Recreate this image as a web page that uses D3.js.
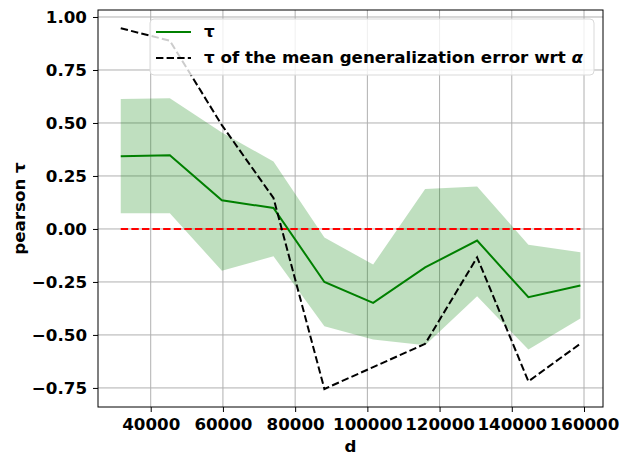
<!DOCTYPE html>
<html>
<head>
<meta charset="utf-8">
<script src="https://cdn.jsdelivr.net/npm/d3@7"></script>
<style>
  body { margin: 0; background: #fff; }
  svg text { font-family: "DejaVu Sans", sans-serif; font-weight: bold; }
</style>
</head>
<body>
<svg id="chart" width="621" height="457"></svg>
<script>
// values
var dValues = [31700, 45300, 59700, 74000, 88100, 101600, 116000, 130400, 144600, 159000];
var tauMean = [0.343, 0.348, 0.135, 0.099, -0.250, -0.349, -0.181, -0.055, -0.322, -0.267];
var tauUpper = [0.613, 0.617, 0.455, 0.318, -0.040, -0.168, 0.189, 0.200, -0.074, -0.110];
var tauLower = [0.074, 0.074, -0.197, -0.129, -0.459, -0.522, -0.549, -0.318, -0.569, -0.423];
var tauGenErr = [0.947, 0.888, 0.490, 0.146, -0.755, -0.652, -0.542, -0.134, -0.719, -0.541];
var xTicks = [40000, 60000, 80000, 100000, 120000, 140000, 160000];
var yTicks = [1.0, 0.75, 0.5, 0.25, 0.0, -0.25, -0.5, -0.75];
var legendLabels = ["τ", "τ of the mean generalization error wrt "];

window.onload = function(){
    drawChart();
};

function drawChart(){
    let svg = d3.select("#chart");
    let left = 98, right = 603, top = 10, bottom = 407;
    let fs = 16.7;

    let xScale = d3.scaleLinear().domain([25400, 165260]).range([left, right]);
    let yScale = d3.scaleLinear().domain([-0.840, 1.033]).range([bottom, top]);

    // grid
    let grid = svg.append("g");
    grid.selectAll("line.vx").data(xTicks).enter().append("line")
        .attr("x1", d => xScale(d)).attr("x2", d => xScale(d))
        .attr("y1", top).attr("y2", bottom)
        .attr("stroke", "#b0b0b0").attr("stroke-width", 1);
    grid.selectAll("line.hy").data(yTicks).enter().append("line")
        .attr("y1", d => yScale(d)).attr("y2", d => yScale(d))
        .attr("x1", left).attr("x2", right)
        .attr("stroke", "#b0b0b0").attr("stroke-width", 1);

    let pts = dValues.map(function(d, i){
        return {x: d, m: tauMean[i], lo: tauLower[i], hi: tauUpper[i], g: tauGenErr[i]};
    });

    // band
    let area = d3.area().x(d => xScale(d.x)).y0(d => yScale(d.lo)).y1(d => yScale(d.hi));
    svg.append("path").datum(pts).attr("d", area)
        .attr("fill", "green").attr("fill-opacity", 0.25);

    // zero reference line
    svg.append("line")
        .attr("x1", xScale(dValues[0])).attr("x2", xScale(dValues[dValues.length - 1]))
        .attr("y1", yScale(0)).attr("y2", yScale(0))
        .attr("stroke", "#ff0000").attr("stroke-width", 2)
        .attr("stroke-dasharray", "7.4,3.2");

    let meanLine = d3.line().x(d => xScale(d.x)).y(d => yScale(d.m));
    svg.append("path").datum(pts).attr("d", meanLine)
        .attr("fill", "none").attr("stroke", "green").attr("stroke-width", 2);

    let genLine = d3.line().x(d => xScale(d.x)).y(d => yScale(d.g));
    svg.append("path").datum(pts).attr("d", genLine)
        .attr("fill", "none").attr("stroke", "black").attr("stroke-width", 2)
        .attr("stroke-dasharray", "7.4,3.2");

    // axes
    let xAxis = d3.axisBottom(xScale).tickValues(xTicks).tickSize(5).tickPadding(6)
        .tickFormat(d3.format("d"));
    let gx = svg.append("g").attr("transform", "translate(0," + bottom + ")").call(xAxis);
    let yAxis = d3.axisLeft(yScale).tickValues(yTicks).tickSize(5).tickPadding(6)
        .tickFormat(d => d3.format(".2f")(d).replace("-", "\u2212"));
    let gy = svg.append("g").attr("transform", "translate(" + left + ",0)").call(yAxis);
    [gx, gy].forEach(function(g){
        g.select(".domain").remove();
        g.selectAll("text").attr("font-size", fs).attr("fill", "#000")
            .style("font-family", "DejaVu Sans").style("font-weight", "bold");
        g.selectAll("line").attr("stroke", "#000").attr("stroke-width", 1);
    });

    svg.append("rect").attr("x", left).attr("y", top)
        .attr("width", right - left).attr("height", bottom - top)
        .attr("fill", "none").attr("stroke", "#000").attr("stroke-width", 1);

    svg.append("text").attr("x", (left + right) / 2).attr("y", 452)
        .attr("text-anchor", "middle").attr("font-size", fs).text("d");
    svg.append("text")
        .attr("transform", "translate(25," + (top + bottom) / 2 + ") rotate(-90)")
        .attr("text-anchor", "middle").attr("font-size", fs).text("pearson τ");

    // legend
    let lg = svg.append("g");
    lg.append("rect").attr("x", 150).attr("y", 19).attr("width", 444).attr("height", 56)
        .attr("rx", 4).attr("fill", "#fff").attr("fill-opacity", 0.8)
        .attr("stroke", "#d9d9d9").attr("stroke-width", 1);
    lg.append("line").attr("x1", 156).attr("x2", 191).attr("y1", 32).attr("y2", 32)
        .attr("stroke", "green").attr("stroke-width", 2);
    lg.append("line").attr("x1", 156).attr("x2", 191).attr("y1", 58).attr("y2", 58)
        .attr("stroke", "black").attr("stroke-width", 2).attr("stroke-dasharray", "7.4,3.2");
    lg.append("text").attr("x", 204).attr("y", 37).attr("font-size", fs).text(legendLabels[0]);
    let t2 = lg.append("text").attr("x", 204).attr("y", 63).attr("font-size", fs).text(legendLabels[1]);
    t2.append("tspan").attr("font-style", "italic").text("α");
}
</script>
</body>
</html>
